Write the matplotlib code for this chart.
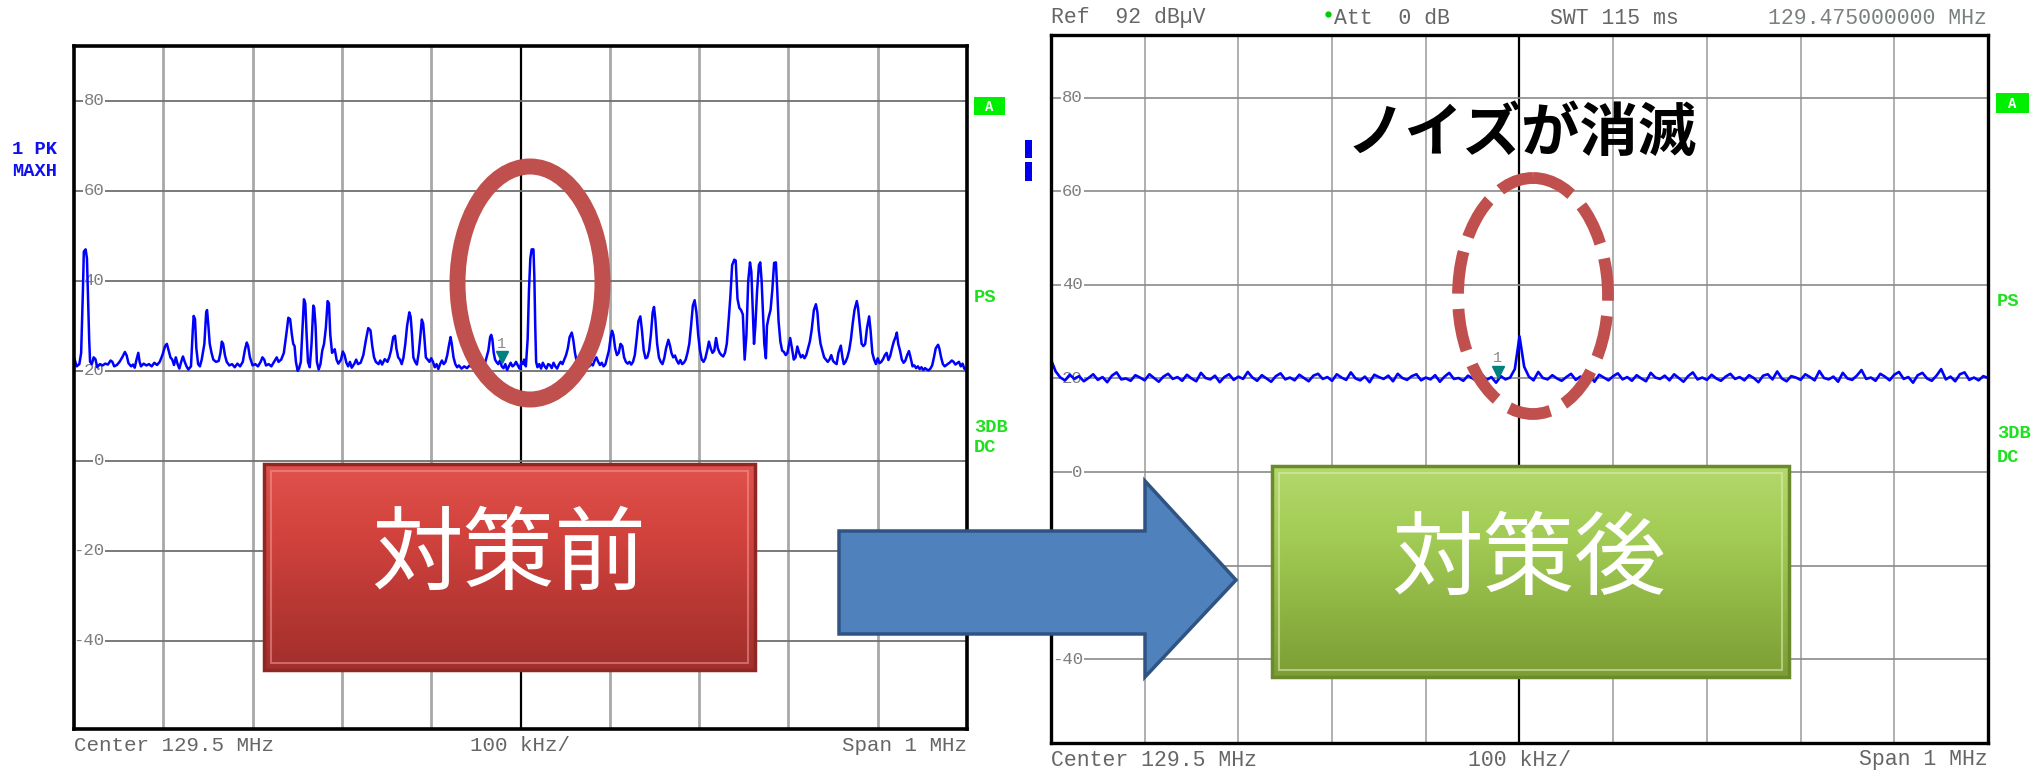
import numpy as np
import matplotlib
matplotlib.use('Agg')
import matplotlib.pyplot as plt
from matplotlib.patches import Rectangle, Ellipse, Polygon
from matplotlib.colors import LinearSegmentedColormap

# ---------------- data ----------------
grid_freqs = [-400, -300, -200, -100, 0, 100, 200, 300, 400]   # kHz offset from center
level_ticks = [80, 60, 40, 20, 0, -20, -40]                     # dBuV

# before countermeasure trace: (kHz offset, dBuV)
before_trace = [
    (-500, 23.0), (-497, 21.0), (-494, 21.5), (-492, 24.0), (-490, 38.0), (-489, 46.5), (-487, 47.0),
    (-485.5, 45.0), (-484.5, 38.0), (-483, 27.0), (-482, 22.0), (-480, 21.5), (-478, 23.0), (-476, 22.6),
    (-474, 20.8), (-471, 21.5), (-468, 21.2), (-465, 21.6), (-462, 21.4), (-459, 22.3), (-457, 22.0),
    (-455, 21.0), (-452, 21.3), (-449, 22.0), (-446, 23.0), (-443, 24.2), (-441, 23.4), (-439, 21.7),
    (-436, 21.0), (-434, 21.4), (-432, 20.7), (-430, 22.5), (-428, 24.0), (-426.5, 22.0), (-425, 21.0),
    (-422, 21.6), (-419, 21.2), (-416, 21.5), (-413, 21.0), (-410, 21.8), (-407, 21.3), (-404, 22.0),
    (-401, 23.5), (-398, 25.5), (-396, 26.0), (-394, 24.5), (-392, 23.0), (-390, 22.5), (-388, 21.3),
    (-386, 23.0), (-384, 21.5), (-382, 20.5), (-380, 22.0), (-378, 23.2), (-376, 22.0), (-374, 21.0),
    (-372, 20.3), (-369, 21.0), (-367, 29.0), (-366, 32.2), (-364.5, 31.5), (-363, 25.0), (-361, 21.5),
    (-359, 21.0), (-357, 22.5), (-354, 26.0), (-352, 33.0), (-351, 33.5), (-349.5, 30.0), (-348, 26.0),
    (-346, 24.0), (-344, 22.5), (-341, 22.0), (-338, 22.2), (-336, 24.0), (-334.5, 26.5), (-333, 26.0),
    (-331, 23.5), (-329, 22.0), (-326, 21.2), (-323, 21.5), (-320, 20.8), (-317, 21.6), (-314, 21.0),
    (-311, 22.0), (-308.5, 24.8), (-306.5, 26.3), (-305, 25.5), (-303, 23.0), (-300, 21.2), (-297, 21.5),
    (-294, 21.0), (-291, 22.0), (-289, 23.0), (-287, 22.5), (-285, 21.2), (-282, 21.5), (-279, 21.0),
    (-276, 22.0), (-273, 23.0), (-271, 22.0), (-268, 22.5), (-265, 24.0), (-262, 28.5), (-260, 31.8),
    (-258, 31.5), (-256, 28.0), (-254.5, 26.0), (-253, 25.5), (-251.5, 22.0), (-249.5, 20.0),
    (-248, 20.5), (-246, 22.0), (-244, 30.0), (-242.5, 35.9), (-241, 35.0), (-239.5, 28.0), (-238, 22.0),
    (-236, 20.8), (-234, 26.0), (-232, 34.5), (-231, 34.0), (-229.5, 30.0), (-228, 22.0), (-226, 20.3),
    (-224, 21.5), (-222, 24.5), (-220, 26.0), (-218, 29.5), (-216, 35.5), (-214.5, 35.0), (-213, 28.0),
    (-211, 24.0), (-208, 24.8), (-206, 22.5), (-204, 21.6), (-201, 22.5), (-199, 24.3), (-197, 23.5),
    (-195, 21.8), (-193, 21.0), (-191, 22.0), (-189, 20.7), (-186, 21.6), (-184, 22.5), (-182, 21.5),
    (-179, 21.8), (-176, 23.5), (-173, 27.0), (-170.5, 29.5), (-168, 29.0), (-166, 25.5), (-164, 23.0),
    (-162, 22.0), (-159, 21.5), (-157, 22.3), (-155, 21.4), (-152, 22.6), (-149, 22.0), (-147, 23.0),
    (-145, 24.5), (-142.5, 27.5), (-140.5, 27.8), (-139, 25.0), (-137, 23.0), (-135, 22.5), (-133, 21.5),
    (-131, 23.0), (-129, 26.0), (-127, 30.0), (-124.5, 33.0), (-123, 32.0), (-121.5, 28.0), (-120, 23.0),
    (-118, 22.0), (-116, 21.4), (-114, 24.0), (-112, 28.0), (-110.5, 31.4), (-109, 30.5), (-107.5, 27.0),
    (-106, 23.0), (-104, 22.5), (-102, 22.0), (-100, 22.8), (-98, 22.0), (-96, 20.8), (-94, 21.5),
    (-92, 20.4), (-90, 21.5), (-88, 22.3), (-86, 21.5), (-84, 22.0), (-82, 23.5), (-80, 25.8),
    (-78.3, 27.5), (-77, 26.0), (-75, 23.0), (-73, 21.5), (-71, 20.8), (-69, 21.2), (-66, 20.5),
    (-63, 21.0), (-60, 20.6), (-57, 21.2), (-54, 20.8), (-51, 21.3), (-48, 20.7), (-45, 21.5),
    (-42, 22.0), (-40, 21.6), (-38, 23.0), (-36, 24.5), (-34, 27.5), (-32.8, 28.0), (-31.5, 27.0),
    (-30, 24.0), (-28.5, 22.5), (-27, 22.0), (-25, 21.5), (-23, 22.3), (-21, 21.0), (-19, 20.6),
    (-17, 21.5), (-15, 20.2), (-13, 21.0), (-11, 21.8), (-9, 21.0), (-7, 21.3), (-5, 22.0), (-3, 21.2),
    (-1, 20.5), (0, 21.0), (1, 22.0), (3, 21.5), (4, 22.5), (6, 21.0), (8, 27.0), (9.5, 38.0),
    (11, 45.0), (12.5, 47.0), (14.5, 47.0), (15.5, 41.0), (16.5, 30.0), (17.5, 22.0), (19, 20.8),
    (21, 21.5), (23, 20.5), (25, 21.8), (27, 21.0), (29, 20.5), (31, 21.5), (33, 21.3), (35, 20.6),
    (37, 21.8), (39, 21.0), (41, 20.5), (43, 21.4), (45, 22.0), (47, 21.5), (49, 22.5), (51, 23.5),
    (53, 25.0), (55, 27.5), (57.4, 28.5), (59, 27.0), (61, 24.0), (63, 22.0), (65, 21.0), (67, 20.8),
    (69, 21.5), (71, 21.0), (73, 20.5), (75, 21.4), (77, 21.0), (79, 21.6), (81, 21.2), (83, 22.3),
    (85, 23.0), (87, 22.0), (89, 21.3), (91, 21.8), (93, 21.0), (95, 21.4), (97, 23.0), (99, 24.5),
    (101, 27.5), (102.5, 28.9), (104, 28.0), (106, 25.0), (108, 23.5), (110, 24.0), (112, 26.0),
    (114, 25.5), (116, 23.0), (118, 22.0), (120, 21.6), (122, 22.0), (124, 21.4), (126, 22.0),
    (128, 23.5), (130, 27.0), (132, 31.0), (134.2, 32.1), (136, 29.0), (138, 24.5), (140, 22.8),
    (142, 23.0), (144, 24.5), (146, 28.0), (148, 33.0), (149.5, 34.2), (151, 31.5), (153, 26.0),
    (155, 23.0), (157, 22.0), (159, 21.5), (161, 22.8), (163, 25.0), (165.6, 26.9), (167.5, 25.5),
    (169, 24.0), (171, 23.0), (173, 23.4), (175, 22.3), (177, 21.6), (179, 22.4), (181, 21.5),
    (183, 21.8), (185, 22.5), (187, 24.0), (189, 26.0), (191, 30.0), (193, 34.5), (195, 35.7),
    (197, 33.0), (199, 28.0), (201, 24.5), (203, 22.5), (205, 22.0), (207, 22.8), (209, 24.5),
    (211, 26.5), (213, 25.0), (215, 24.0), (217, 24.5), (219, 27.3), (221, 25.0), (223, 24.0),
    (225, 23.5), (227, 23.2), (229, 24.0), (231, 26.0), (233, 31.0), (235, 36.5), (237, 43.5),
    (239.4, 44.7), (241, 44.5), (243, 36.0), (245, 34.0), (247, 33.5), (249, 32.5), (251, 22.5),
    (253, 28.0), (255, 40.0), (257, 44.1), (258.5, 42.0), (260, 34.0), (261.5, 26.0), (263, 30.0),
    (265, 38.0), (267, 43.5), (268.5, 44.1), (270, 40.0), (271.5, 33.0), (273, 26.0), (274.8, 22.8),
    (276, 30.0), (278, 32.0), (280, 33.5), (282, 38.0), (284, 44.0), (286, 44.1), (287.5, 38.0),
    (289, 31.0), (291, 26.5), (293, 24.5), (295, 24.2), (297, 23.5), (299, 24.0), (302, 27.3),
    (304, 25.0), (306, 22.5), (308, 23.0), (310, 25.4), (312, 24.0), (314, 23.0), (316, 23.5),
    (318, 22.8), (320, 23.5), (322, 25.0), (324, 26.5), (326, 29.0), (328.5, 33.5), (330.8, 34.8),
    (332.5, 33.0), (334, 29.0), (336, 26.0), (338, 24.5), (340, 23.0), (342, 22.5), (344, 22.0),
    (346, 22.5), (348, 23.5), (350, 22.2), (352, 21.8), (354, 21.5), (356, 24.0), (358.7, 25.6),
    (360.5, 23.0), (362, 21.5), (364, 22.0), (366, 23.0), (368, 24.5), (370, 27.0), (372, 30.5),
    (374, 33.5), (376.6, 35.5), (378, 34.0), (380, 30.0), (382, 26.0), (384, 25.5), (386, 26.0),
    (388, 29.5), (390.4, 32.1), (392, 29.0), (394, 24.0), (396, 22.5), (398, 21.5), (400, 22.8),
    (402, 21.7), (404, 22.0), (406, 22.6), (408, 23.5), (410, 24.0), (412, 22.4), (414, 23.3),
    (416, 25.0), (418, 26.5), (420, 27.5), (421.4, 28.5), (423, 26.0), (425, 24.5), (427, 22.5),
    (429, 21.8), (431, 22.3), (433, 23.5), (435, 24.4), (437, 22.8), (439, 21.0), (441, 21.2),
    (443, 20.6), (445, 21.0), (447, 20.4), (449, 20.8), (451, 20.2), (453, 20.6), (455, 20.3),
    (457, 20.1), (459, 20.5), (461, 21.2), (463, 23.0), (465, 25.0), (467.6, 25.8), (469, 25.0),
    (471, 23.0), (473, 21.5), (475, 21.0), (477, 21.3), (479, 21.6), (481, 21.9), (483, 22.3),
    (485, 22.0), (487, 21.4), (489, 21.7), (491, 22.0), (493, 21.0), (495, 21.6), (497, 20.5),
    (499, 20.2), (500, 21.0),
]

# after countermeasure trace: levels at uniformly spaced sweep points (-500..500 kHz)
after_level = [
    24.0, 21.5, 20.2, 19.6, 20.8, 19.9, 20.5, 19.4, 20.1, 20.9, 19.7, 20.3, 19.2, 20.6, 21.3, 19.8, 20.0, 19.5, 20.7, 20.2,
    19.6, 20.9, 20.1, 19.3, 20.4, 21.0, 19.9, 20.3, 19.5, 20.8, 20.0, 19.4, 21.2, 20.1, 19.8, 20.6, 19.2, 20.3, 20.9, 19.7,
    20.4, 19.9, 21.4, 20.2, 19.5, 20.7, 20.0, 19.3, 20.5, 21.1, 19.8, 20.2, 19.6, 20.8, 20.1, 19.4, 20.6, 21.0, 19.9, 20.3,
    19.5, 20.9, 20.2, 19.7, 21.3, 20.0, 19.6, 20.4, 19.2, 20.8, 20.3, 19.9, 20.6, 19.4, 21.0, 20.1, 19.7, 20.5, 20.9, 19.6,
    20.2, 19.8, 20.7, 19.3, 20.4, 21.2, 19.9, 20.1, 19.5, 20.6, 20.0, 19.4, 20.8, 19.7, 20.3, 19.1, 20.5, 19.8, 20.2, 22.0,
    29.0,
    22.5, 20.4, 19.6, 21.4, 20.1, 19.8, 20.7, 20.0, 19.5, 20.3, 21.0, 19.7, 20.4, 19.9, 20.6, 19.3, 20.8, 20.2, 19.6, 20.5,
    21.1, 19.8, 20.3, 19.5, 20.7, 20.0, 19.4, 21.2, 20.2, 19.9, 20.6, 19.6, 20.9, 20.1, 19.3, 20.5, 21.3, 19.8, 20.2, 19.7,
    20.8, 20.0, 19.5, 20.4, 21.0, 19.9, 20.3, 19.6, 20.7, 20.1, 19.2, 20.6, 20.9, 19.8, 21.5, 20.0, 19.4, 20.5, 20.2, 19.7,
    20.9, 20.3, 19.6, 21.6, 20.1, 19.8, 20.4, 19.3, 21.2, 20.0, 19.7, 20.6, 21.8, 19.9, 20.2, 19.5, 21.0, 20.4, 19.6, 20.8,
    21.4, 19.9, 20.3, 19.1, 20.7, 21.2, 20.0, 19.5, 20.6, 22.0, 19.8, 20.4, 19.4, 20.9, 21.3, 19.7, 20.2, 19.6, 20.5, 20.1,
]

marker_before = (-21, 23.0)
marker_after = (-23, 21.4)

bottom_left_text = "Center 129.5 MHz"
bottom_mid_text = "100 kHz/"
bottom_right_text = "Span 1 MHz"
header_texts = ["Ref  92 dB\u00b5V", "Att  0 dB", "SWT 115 ms", "129.475000000 MHz"]
label_before = "対策前"
label_after = "対策後"
label_note = "ノイズが消滅"

# ---------------- figure ----------------
W, H = 2040, 771
fig = plt.figure(figsize=(W / 100, H / 100), dpi=100)
fig.patch.set_facecolor('white')
MONO = 'Liberation Mono'
JP = ['Noto Sans CJK JP', 'DejaVu Sans']


def px_rect(x0, y0, x1, y1):
    return [x0 / W, 1 - y1 / H, (x1 - x0) / W, (y1 - y0) / H]


def style_panel(ax, ylim, vcol, vlw, hcol, hlw, lab_x, spine_lw):
    ax.set_xlim(-500, 500)
    ax.set_ylim(*ylim)
    ax.set_xticks([])
    ax.set_yticks([])
    for s in ax.spines.values():
        s.set_linewidth(spine_lw)
        s.set_color('black')
        s.set_zorder(10)
    for f in grid_freqs:
        if f == 0:
            ax.axvline(f, color='black', lw=1.6, zorder=1)
        else:
            ax.axvline(f, color=vcol, lw=vlw, zorder=1)
    for lv in level_ticks:
        ax.axhline(lv, color=hcol, lw=hlw, zorder=1)
        ax.text(lab_x, lv, str(lv), transform=ax.get_yaxis_transform(), ha='right', va='center',
                fontsize=12.5, family=MONO, color='#7d7d7d',
                bbox=dict(facecolor='white', edgecolor='none', pad=0.6), zorder=2)


ax1 = fig.add_axes(px_rect(74, 45.5, 967, 728.6))
style_panel(ax1, (-59.5, 92.3), '#a8a8a8', 2.0, '#707070', 1.3, 0.034, 2.6)
bf = [p[0] for p in before_trace]
bl = [p[1] for p in before_trace]
ax1.plot(bf, bl, color='#0000ff', lw=1.8, zorder=3)
ax1.plot(*marker_before, marker='v', color='#008080', ms=8, zorder=4)
ax1.text(marker_before[0], marker_before[1] + 3.0, '1', color='#8a8a8a', fontsize=11, family=MONO,
         ha='center', va='center', zorder=4)

ax2 = fig.add_axes(px_rect(1051, 35, 1988, 743))
style_panel(ax2, (-57.9, 93.4), '#9a9a9a', 1.1, '#8a8a8a', 1.2, 0.034, 2.4)
af = np.linspace(-500, 500, len(after_level))
ax2.plot(af, after_level, color='#0000ff', lw=1.9, zorder=3)
ax2.plot(*marker_after, marker='v', color='#008080', ms=8, zorder=4)
ax2.text(marker_after[0], marker_after[1] + 3.0, '1', color='#8a8a8a', fontsize=11, family=MONO,
         ha='center', va='center', zorder=4)

# ---------------- overlay in pixel coordinates ----------------
ov = fig.add_axes([0, 0, 1, 1])
ov.axis('off')
ov.patch.set_alpha(0)

TXT = '#666666'
# side labels left panel
ov.text(12, 150, "1 PK", color='#1010ee', fontsize=13.5, family=MONO, weight='bold', ha='left', va='center')
ov.text(12, 172, "MAXH", color='#1010ee', fontsize=13.5, family=MONO, weight='bold', ha='left', va='center')
GREEN = '#1ee01e'
for (bx0, by0, bx1, by1), lx, ys in [((974, 97, 1005, 115), 974, (298, 427, 448)),
                                     ((1996, 93, 2029, 113), 1997, (302, 434, 457))]:
    ov.add_patch(Rectangle((bx0, by0), bx1 - bx0, by1 - by0, facecolor='#00ee00', edgecolor='none', zorder=3))
    ov.text((bx0 + bx1) / 2, (by0 + by1) / 2 + 1, "A", color='white', fontsize=10, family=MONO, weight='bold',
            ha='center', va='center', zorder=4)
    for t, yy in zip(["PS", "3DB", "DC"], ys):
        ov.text(lx, yy, t, color=GREEN, fontsize=13.5, family=MONO, weight='bold', ha='left', va='center')
# small blue tags near right panel
ov.add_patch(Rectangle((1025, 140), 7, 18, facecolor='#0000ee', edgecolor='none'))
ov.add_patch(Rectangle((1025, 162), 7, 19, facecolor='#0000ee', edgecolor='none'))

# bottom texts
for (xl, xc, xr, yy, fs) in [(74, 520.5, 967, 745.5, 15), (1051, 1519.5, 1988, 760, 15.5)]:
    ov.text(xl, yy, bottom_left_text, color=TXT, fontsize=fs, family=MONO, ha='left', va='center')
    ov.text(xc, yy, bottom_mid_text, color=TXT, fontsize=fs, family=MONO, ha='center', va='center')
    ov.text(xr, yy, bottom_right_text, color=TXT, fontsize=fs, family=MONO, ha='right', va='center')

# header texts (right panel)
ov.text(1051, 18, header_texts[0], color=TXT, fontsize=15.5, family=MONO, ha='left', va='center')
ov.plot([1328], [14], marker='o', color='#00cc00', ms=3.5, linestyle='none')
ov.text(1334, 18, header_texts[1], color=TXT, fontsize=15.5, family=MONO, ha='left', va='center')
ov.text(1550, 18, header_texts[2], color=TXT, fontsize=15.5, family=MONO, ha='left', va='center')
ov.text(1987, 18, header_texts[3], color='#7a8080', fontsize=15.5, family=MONO, ha='right', va='center')


def button(x0, y0, x1, y1, colors, edge, inner, label, tx, ty):
    cmap = LinearSegmentedColormap.from_list('btn', colors)
    grad = np.linspace(0, 1, 256).reshape(-1, 1)
    ov.imshow(grad, extent=[x0, x1, y1, y0], cmap=cmap, aspect='auto', zorder=5, interpolation='bilinear')
    ov.add_patch(Rectangle((x0, y0), x1 - x0, y1 - y0, fill=False, ec=edge, lw=2.5, zorder=6))
    ov.add_patch(Rectangle((x0 + 7, y0 + 7), x1 - x0 - 14, y1 - y0 - 14, fill=False, ec=inner, lw=1.5,
                           alpha=0.55, zorder=6))
    ov.text(tx, ty, label, color='white', fontsize=66, family=JP, ha='center', va='center', zorder=7)


button(264, 464, 755, 670, ['#e0524d', '#d3433e', '#b93834', '#a22f2c'], '#8e2825', '#f09a96',
       label_before, 509, 557)
button(1272, 466, 1789, 677, ['#b4d86c', '#a2cc55', '#8fb544', '#7c9d34'], '#6b8a2c', '#e0f0b8',
       label_after, 1529, 562)

# arrow
arrow_pts = [(839, 531), (1145, 531), (1145, 481), (1236, 580), (1145, 677), (1145, 634), (839, 634)]
ov.add_patch(Polygon(arrow_pts, closed=True, facecolor='#4f81bd', edgecolor='#2f5383', lw=2.5, zorder=5))

# ellipses
ov.add_patch(Ellipse((530, 283), 145, 233, fill=False, edgecolor='#c0504d', lw=11.5, zorder=6))
ov.add_patch(Ellipse((1533, 296), 150, 236, fill=False, edgecolor='#c0504d', lw=8.5,
                     linestyle=(0, (3.6, 1.3)), capstyle='butt', zorder=6))

ov.text(1522, 134, label_note, color='black', fontsize=42, family=JP, weight='bold',
        ha='center', va='center', zorder=7)

ov.set_xlim(0, W)
ov.set_ylim(H, 0)

fig.savefig('out.png', dpi=100)
